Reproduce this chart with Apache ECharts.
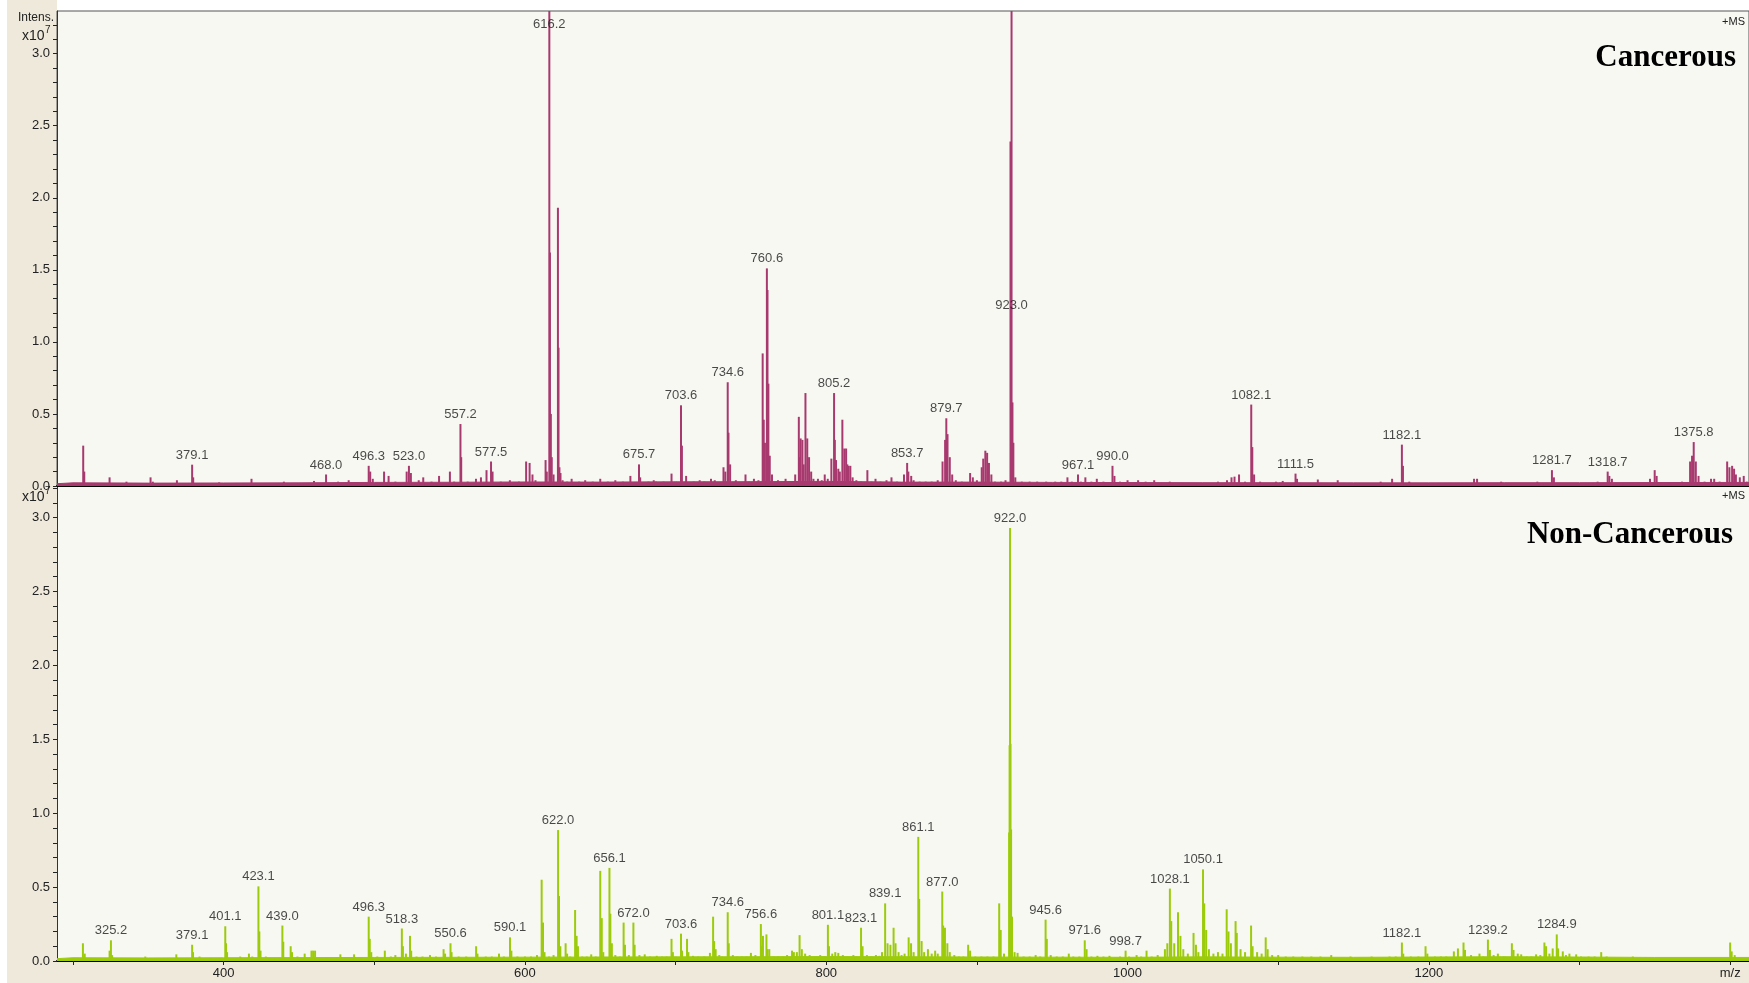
<!DOCTYPE html>
<html>
<head>
<meta charset="utf-8">
<title>Mass spectra</title>
<script src="https://cdn.jsdelivr.net/npm/echarts@6/dist/echarts.min.js"></script>
<style>
  html, body { margin: 0; padding: 0; background: #ffffff; }
  #chart { width: 1749px; height: 983px; }
</style>
</head>
<body>
<div id="chart"></div>
<script>
// m/z ranges and ticks
const xMin = 289.4;
const xMax = 1412.5;
const xTicks = [300, 400, 500, 600, 700, 800, 900, 1000, 1100, 1200, 1300, 1400];
const xLabels = [400, 600, 800, 1000, 1200, 1400];
const yTicks = [0, 0.1, 0.2, 0.3, 0.4, 0.5, 0.6, 0.7, 0.8, 0.9, 1.0, 1.1, 1.2, 1.3, 1.4, 1.5, 1.6, 1.7, 1.8, 1.9, 2.0, 2.1, 2.2, 2.3, 2.4, 2.5, 2.6, 2.7, 2.8, 2.9, 3.0, 3.1, 3.2];
const yLabels = [0, 0.5, 1.0, 1.5, 2.0, 2.5, 3.0];

// Cancerous spectrum, [m/z, intensity x10^7]
const cancerPeaks = [
  [306.8,0.28],[307.5,0.1],[315,0.02],[324.3,0.06],[335.5,0.03],[342,0.02],[351.5,0.06],[353,0.03],[360,0.02],[369,0.04],
  [379.1,0.148],[379.8,0.06],[386,0.02],[397,0.025],[405,0.02],[418.5,0.05],[428,0.02],[440,0.03],[450,0.02],[460,0.035],
  [468.0,0.08],[476,0.03],[483,0.04],[489,0.02],[496.3,0.14],[497.3,0.1],[499,0.05],[506.5,0.1],[509.5,0.07],[514,0.03],
  [521.5,0.1],[523.0,0.14],[524.3,0.09],[529.5,0.04],[532.5,0.06],[538,0.03],[543,0.07],[550.2,0.1],[553,0.03],[557.2,0.43],
  [557.7,0.2],[562,0.03],[567.5,0.05],[570.8,0.06],[574.5,0.11],[577.5,0.17],[578.5,0.1],[584,0.03],[590,0.04],[596,0.03],
  [600.8,0.17],[603.1,0.16],[605,0.08],[607,0.04],[613.7,0.18],[614.5,0.1],[616.2,3.45],[616.6,1.62],[617.2,0.5],[617.8,0.2],
  [619,0.08],[621.9,1.93],[622.3,0.96],[622.9,0.13],[623.6,0.09],[625,0.04],[628,0.03],[631,0.05],[636,0.03],[640,0.04],
  [645,0.03],[650,0.05],[655,0.03],[660,0.04],[665,0.03],[670,0.07],[675.7,0.15],[676.5,0.06],[682,0.03],[685.5,0.04],
  [687,0.03],[692,0.03],[697.3,0.086],[700,0.03],[703.6,0.56],[704.2,0.28],[707,0.07],[712,0.03],[716,0.04],[719,0.03],
  [723.5,0.05],[726,0.04],[731.8,0.13],[733,0.1],[734.6,0.72],[735.1,0.37],[736.2,0.15],[740,0.04],[746.4,0.08],[749,0.03],
  [752,0.05],[755,0.04],[757.8,0.92],[758.5,0.46],[759.3,0.3],[760.6,1.51],[761.0,1.36],[761.6,0.71],[762.5,0.21],[764,0.08],
  [768,0.04],[773,0.05],[776,0.03],[779.4,0.08],[781.8,0.48],[782.4,0.2],[783,0.33],[784.2,0.32],[785,0.15],[786.2,0.645],
  [787.4,0.33],[788.6,0.2],[790,0.1],[791.5,0.05],[794.5,0.05],[797,0.04],[799,0.08],[801,0.05],[803.4,0.19],[805.2,0.645],
  [805.7,0.32],[806.5,0.18],[808,0.12],[809,0.1],[810.7,0.46],[812,0.26],[813.2,0.26],[814,0.15],[814.8,0.14],[816,0.14],
  [817.5,0.06],[820,0.04],[823,0.03],[827.3,0.11],[830,0.03],[832.7,0.05],[836,0.03],[840,0.04],[843.3,0.06],[847,0.03],
  [851.6,0.08],[853.7,0.16],[854.5,0.1],[856.4,0.07],[858,0.04],[862,0.03],[866,0.03],[870,0.03],[874,0.04],[877.2,0.17],
  [878.9,0.32],[879.7,0.47],[880.5,0.36],[882,0.2],[883.6,0.08],[886,0.04],[890,0.03],[895.5,0.09],[897.3,0.06],[900,0.04],
  [903.2,0.13],[904.2,0.19],[905.6,0.245],[906.8,0.23],[908,0.16],[909.6,0.08],[912,0.03],[916,0.03],[919,0.04],[922.3,2.39],
  [923.0,3.45],[923.6,0.58],[924.2,0.3],[925.5,0.06],[929.8,0.03],[935,0.03],[940,0.03],[946,0.03],[952,0.03],[956,0.03],
  [960.1,0.06],[963,0.03],[967.1,0.08],[969,0.03],[972,0.06],[976,0.03],[979.6,0.05],[984,0.03],[990.0,0.14],[991.3,0.07],
  [995,0.03],[1000,0.04],[1007,0.04],[1012,0.03],[1017.7,0.04],[1022,0.02],[1028,0.03],[1035,0.02],[1045,0.02],[1052,0.02],
  [1060,0.03],[1066,0.04],[1069,0.06],[1071,0.065],[1074,0.08],[1078,0.03],[1082.1,0.565],[1082.8,0.27],[1084,0.08],[1088,0.03],
  [1093,0.02],[1098.5,0.03],[1103,0.035],[1107,0.02],[1111.5,0.086],[1112.5,0.05],[1118,0.02],[1126.3,0.045],[1132,0.02],[1139.5,0.04],
  [1146,0.02],[1153,0.02],[1160,0.02],[1168,0.03],[1175.6,0.05],[1182.1,0.287],[1182.8,0.14],[1187,0.03],[1195,0.02],[1203,0.02],
  [1212,0.02],[1220,0.02],[1230,0.05],[1232,0.05],[1240,0.02],[1248,0.03],[1256,0.02],[1264,0.02],[1272,0.03],[1277,0.02],
  [1281.7,0.11],[1283,0.06],[1290,0.02],[1298,0.02],[1305,0.02],[1312,0.03],[1318.7,0.1],[1319.8,0.07],[1321.5,0.05],[1328,0.02],
  [1336,0.02],[1342,0.02],[1346.8,0.05],[1349.9,0.11],[1351.2,0.07],[1356,0.02],[1362,0.02],[1368,0.03],[1373.4,0.17],[1374.7,0.21],
  [1375.8,0.305],[1377.2,0.17],[1379,0.07],[1383,0.03],[1387.3,0.05],[1389.4,0.05],[1393,0.03],[1398,0.17],[1399.5,0.13],[1401.3,0.14],
  [1402.6,0.12],[1403.8,0.08],[1406.4,0.06],[1409,0.07],[1411,0.03]
];

// Non-cancerous spectrum, [m/z, intensity x10^7]
const normalPeaks = [
  [306.6,0.12],[307.8,0.05],[315,0.02],[324.3,0.07],[325.2,0.14],[326,0.04],[333,0.02],[340,0.02],[348,0.03],[355,0.02],
  [362,0.02],[368.6,0.045],[374,0.02],[379.1,0.11],[379.7,0.06],[384,0.03],[390,0.02],[395,0.02],[401.1,0.235],[401.6,0.12],
  [402.3,0.06],[407,0.02],[411,0.03],[416.8,0.05],[419,0.03],[423.1,0.505],[423.7,0.2],[424.5,0.07],[428,0.03],[433,0.02],
  [439.0,0.24],[439.6,0.13],[444.5,0.1],[445.4,0.06],[449,0.03],[453.8,0.05],[458.3,0.07],[459.4,0.07],[460.7,0.07],[465,0.02],
  [471,0.02],[477.5,0.045],[482,0.02],[486.6,0.045],[491,0.02],[496.3,0.30],[497,0.15],[498,0.06],[502,0.03],[507,0.07],
  [511,0.03],[514,0.04],[518.3,0.22],[519,0.1],[521,0.05],[523.7,0.17],[524.5,0.07],[528,0.03],[532,0.03],[537,0.04],
  [541,0.03],[546,0.08],[547,0.05],[550.6,0.12],[551.3,0.06],[556,0.03],[561,0.03],[567.6,0.1],[568.5,0.05],[574,0.03],
  [578,0.03],[582.8,0.05],[586,0.03],[590.1,0.16],[591,0.07],[595,0.03],[600,0.03],[604,0.03],[608,0.04],[611.1,0.55],
  [612,0.26],[613,0.06],[616,0.03],[619,0.04],[622.0,0.886],[622.6,0.44],[623.5,0.1],[627,0.12],[628,0.05],[630,0.03],
  [633.3,0.345],[634.3,0.17],[635.2,0.1],[638,0.03],[641,0.03],[644,0.045],[647,0.03],[650.0,0.61],[651,0.29],[652,0.06],
  [656.1,0.63],[656.7,0.32],[657.7,0.12],[660,0.04],[663,0.03],[665.5,0.26],[666.4,0.11],[669,0.04],[672.0,0.26],[672.8,0.11],
  [676,0.04],[679.5,0.045],[683,0.03],[687.5,0.035],[691,0.03],[694,0.03],[697.3,0.15],[698.2,0.06],[700,0.03],[703.6,0.185],
  [704.3,0.07],[707.6,0.15],[708.5,0.06],[711.5,0.035],[715,0.03],[719,0.03],[722.8,0.055],[724.9,0.30],[725.6,0.135],[726.6,0.08],
  [729,0.04],[731,0.03],[734.6,0.33],[735.3,0.12],[738,0.04],[741,0.03],[744,0.03],[747,0.03],[750,0.055],[753,0.04],
  [756.6,0.25],[757.3,0.1],[758,0.17],[760.3,0.18],[761,0.08],[762.2,0.08],[765,0.03],[768,0.03],[771,0.03],[774,0.04],
  [777.3,0.07],[778.5,0.06],[780.5,0.06],[782.3,0.175],[783.8,0.08],[786,0.05],[789,0.04],[793,0.03],[796,0.04],[801.1,0.245],
  [801.8,0.1],[804,0.05],[806,0.06],[808,0.055],[811,0.04],[814,0.03],[818,0.04],[820,0.03],[823.1,0.225],[824.1,0.1],
  [827,0.04],[830,0.03],[833,0.04],[835.3,0.035],[837,0.06],[839.1,0.39],[840.7,0.12],[842.6,0.11],[844.7,0.225],[846,0.12],
  [848,0.06],[850,0.04],[852,0.05],[854.7,0.16],[856.3,0.12],[858,0.06],[861.1,0.84],[861.7,0.42],[863.3,0.135],[865,0.06],
  [867.5,0.08],[870,0.05],[872.3,0.07],[874,0.05],[877.0,0.47],[877.6,0.24],[878.8,0.225],[880.4,0.12],[882,0.06],[885,0.04],
  [888,0.03],[891,0.03],[894.2,0.11],[895.5,0.07],[899,0.03],[903,0.03],[907,0.03],[911,0.03],[914.8,0.39],[915.8,0.21],
  [918,0.05],[921.4,0.87],[921.7,1.46],[922.0,2.93],[922.3,1.47],[922.7,0.89],[923.3,0.3],[925,0.06],[927,0.055],[931,0.03],
  [935,0.03],[939,0.04],[942,0.03],[945.6,0.28],[946.4,0.15],[949,0.04],[953,0.03],[957,0.03],[961,0.05],[964,0.03],
  [968,0.03],[971.6,0.14],[972.8,0.08],[976,0.03],[980,0.035],[984,0.03],[988,0.035],[992,0.02],[995,0.03],[998.7,0.07],
  [1001,0.03],[1006,0.04],[1009,0.03],[1012.6,0.07],[1016,0.03],[1020,0.04],[1024.8,0.08],[1026.4,0.12],[1028.1,0.49],[1029,0.27],
  [1031,0.12],[1033.5,0.33],[1035.1,0.17],[1037,0.08],[1040,0.05],[1043.8,0.19],[1045.4,0.11],[1047,0.06],[1050.1,0.62],[1050.9,0.39],
  [1052.2,0.21],[1054,0.08],[1057,0.05],[1060,0.06],[1063,0.05],[1065.8,0.35],[1067,0.2],[1068.6,0.12],[1071.7,0.27],[1072.5,0.19],
  [1075,0.08],[1078,0.06],[1082,0.24],[1083,0.1],[1086,0.06],[1089,0.05],[1091.7,0.16],[1093,0.08],[1096,0.04],[1100,0.04],
  [1105,0.03],[1110,0.03],[1116,0.03],[1122,0.03],[1128,0.03],[1135.2,0.04],[1141,0.02],[1148,0.03],[1155,0.02],[1162,0.03],
  [1168,0.02],[1173.9,0.03],[1178,0.03],[1182.1,0.125],[1183,0.05],[1188,0.03],[1193,0.03],[1197.8,0.1],[1199,0.05],[1204,0.03],
  [1208,0.03],[1211.5,0.03],[1216.6,0.065],[1219.3,0.085],[1223,0.125],[1224,0.075],[1228,0.04],[1233.6,0.05],[1236,0.03],[1239.2,0.145],
  [1240.5,0.075],[1243,0.04],[1245.8,0.05],[1250,0.03],[1255.1,0.12],[1256.2,0.075],[1259,0.05],[1261.3,0.045],[1265,0.03],[1268,0.03],
  [1271.2,0.045],[1274,0.04],[1276.7,0.125],[1277.8,0.1],[1280,0.05],[1282.2,0.085],[1284.9,0.18],[1285.8,0.085],[1288.9,0.065],[1291,0.04],
  [1293.3,0.05],[1297.8,0.045],[1301,0.03],[1306,0.03],[1310,0.03],[1314.4,0.06],[1318,0.03],[1324,0.02],[1330,0.02],[1335.4,0.03],
  [1341,0.02],[1347,0.02],[1353,0.02],[1362,0.02],[1370,0.02],[1378,0.02],[1385,0.02],[1392,0.02],[1400,0.125],[1401,0.065],
  [1403,0.04],[1407,0.02]
];

// baseline noise level
const cancerFloor = [
  [289.4,0.016],[300,0.022],[350,0.02],[400,0.021],[450,0.022],[500,0.025],[550,0.026],[600,0.028],[650,0.027],[700,0.029],
  [750,0.03],[800,0.032],[850,0.027],[900,0.027],[950,0.025],[1000,0.024],[1050,0.023],[1100,0.023],[1150,0.022],[1200,0.022],
  [1250,0.023],[1300,0.023],[1350,0.024],[1412.5,0.025]
];
const normalFloor = [
  [289.4,0.016],[300,0.022],[350,0.021],[400,0.022],[450,0.023],[500,0.024],[550,0.025],[600,0.026],[650,0.027],[700,0.028],
  [750,0.029],[800,0.03],[850,0.029],[900,0.027],[950,0.026],[1000,0.025],[1050,0.028],[1100,0.026],[1150,0.025],[1200,0.027],
  [1250,0.029],[1300,0.027],[1350,0.024],[1412.5,0.024]
];

// annotated peaks
const cancerLabels = ['379.1','468.0','496.3','523.0','557.2','577.5','616.2','675.7','703.6','734.6','760.6','805.2',
  '853.7','879.7','923.0','967.1','990.0','1082.1','1111.5','1182.1','1281.7','1318.7','1375.8'];
const normalLabels = ['325.2','379.1','401.1','423.1','439.0','496.3','518.3','550.6','590.1','622.0','656.1','672.0',
  '703.6','734.6','756.6','801.1','823.1','839.1','861.1','877.0','922.0','945.6','971.6','998.7','1028.1','1050.1',
  '1182.1','1239.2','1284.9'];
// off-scale peaks: where their label sits instead
const labelAnchorOverride = { '616.2': 3.14, '923.0': 1.19 };

const topMax = 3.296;
const botMax = 3.214;

const FONT = '"Liberation Sans", Arial, sans-serif';
const CANCER_COLOR = '#A8396F';
const NORMAL_COLOR = '#9CCB0C';

function labelPoints(labels, peaks, yMax) {
  return labels.map(function (txt) {
    const mz = parseFloat(txt);
    let h = 0;
    peaks.forEach(function (p) {
      if (Math.abs(p[0] - mz) <= 1.0 && p[1] > h) h = p[1];
    });
    if (h > yMax && labelAnchorOverride[txt] !== undefined) h = labelAnchorOverride[txt];
    return { name: txt, value: [mz, h] };
  });
}

function makeX(gridIndex, showLabels) {
  return {
    type: 'value',
    gridIndex: gridIndex,
    min: xMin,
    max: xMax,
    splitLine: { show: false },
    axisLine: { show: true, onZero: false, lineStyle: { color: '#000', width: 2 } },
    axisTick: { show: showLabels, length: 4, customValues: xTicks, lineStyle: { color: '#222' } },
    axisLabel: {
      show: showLabels,
      customValues: xLabels,
      margin: 6,
      fontFamily: FONT,
      fontSize: 13,
      color: '#222',
      formatter: function (v) { return v === 1400 ? 'm/z' : String(v); }
    }
  };
}

function makeY(gridIndex, max) {
  return {
    type: 'value',
    gridIndex: gridIndex,
    min: 0,
    max: max,
    splitLine: { show: false },
    axisLine: { show: true, lineStyle: { color: '#333', width: 1 } },
    axisTick: { show: true, length: 4, customValues: yTicks, lineStyle: { color: '#222' } },
    axisLabel: {
      customValues: yLabels,
      margin: 7,
      fontFamily: FONT,
      fontSize: 13,
      color: '#222',
      formatter: function (v) { return v.toFixed(1); }
    }
  };
}

function spectrum(idx, peaks, floor, labels, color, yMax) {
  return [
    {
      type: 'line',
      xAxisIndex: idx, yAxisIndex: idx,
      data: floor,
      showSymbol: false,
      silent: true,
      lineStyle: { width: 1, color: color },
      areaStyle: { color: color, opacity: 1 },
      z: 2
    },
    {
      type: 'bar',
      xAxisIndex: idx, yAxisIndex: idx,
      data: peaks,
      barWidth: 2,
      barGap: '-100%',
      itemStyle: { color: color },
      clip: true,
      z: 3
    },
    {
      type: 'scatter',
      xAxisIndex: idx, yAxisIndex: idx,
      data: labelPoints(labels, peaks, yMax),
      symbolSize: 0,
      clip: false,
      label: {
        show: true,
        position: 'top',
        distance: 3,
        fontFamily: FONT,
        fontSize: 13,
        color: '#1a1a1a',
        formatter: function (p) { return p.name; }
      },
      z: 5
    }
  ];
}

const chart = echarts.init(document.getElementById('chart'), null, { renderer: 'canvas' });

const option = {
  animation: false,
  backgroundColor: '#ffffff',
  grid: [
    { left: 57, top: 11, width: 1692, height: 475, show: true, backgroundColor: '#F8F8F3', borderColor: '#555', borderWidth: 1 },
    { left: 57, top: 486, width: 1692, height: 475, show: true, backgroundColor: '#F8F8F3', borderWidth: 0 }
  ],
  xAxis: [makeX(0, false), makeX(1, true)],
  yAxis: [makeY(0, topMax), makeY(1, botMax)],
  series: [].concat(
    spectrum(0, cancerPeaks, cancerFloor, cancerLabels, CANCER_COLOR, topMax),
    spectrum(1, normalPeaks, normalFloor, normalLabels, NORMAL_COLOR, botMax)
  ),
  graphic: [
    // beige frame round the plots
    { type: 'rect', z: -10, shape: { x: 7, y: 0, width: 50, height: 983 }, style: { fill: '#EFE9DC' } },
    { type: 'rect', z: -10, shape: { x: 7, y: 961, width: 1742, height: 22 }, style: { fill: '#EFE9DC' } },
    { type: 'text', right: 1749 - 54, top: 12, style: { text: 'Intens.', font: '12px ' + FONT, fill: '#222' } },
    { type: 'text', x: 22, y: 29, style: { text: 'x10', font: '14px ' + FONT, fill: '#222' } },
    { type: 'text', x: 45, y: 25, style: { text: '7', font: '10px ' + FONT, fill: '#222' } },
    { type: 'text', x: 22, y: 490, z: 100, style: { text: 'x10', font: '14px ' + FONT, fill: '#222' } },
    { type: 'text', x: 45, y: 486, z: 100, style: { text: '7', font: '10px ' + FONT, fill: '#222' } },
    { type: 'text', right: 4, top: 16, style: { text: '+MS', font: '11px ' + FONT, fill: '#222' } },
    { type: 'text', right: 4, top: 490, style: { text: '+MS', font: '11px ' + FONT, fill: '#222' } },
    { type: 'text', right: 13, top: 42, style: { text: 'Cancerous', font: 'bold 31px "Liberation Serif", "Times New Roman", serif', fill: '#000' } },
    { type: 'text', right: 16, top: 519, style: { text: 'Non-Cancerous', font: 'bold 31px "Liberation Serif", "Times New Roman", serif', fill: '#000' } }
  ]
};

chart.setOption(option);
window.addEventListener('resize', function () { chart.resize(); });
</script>
</body>
</html>
